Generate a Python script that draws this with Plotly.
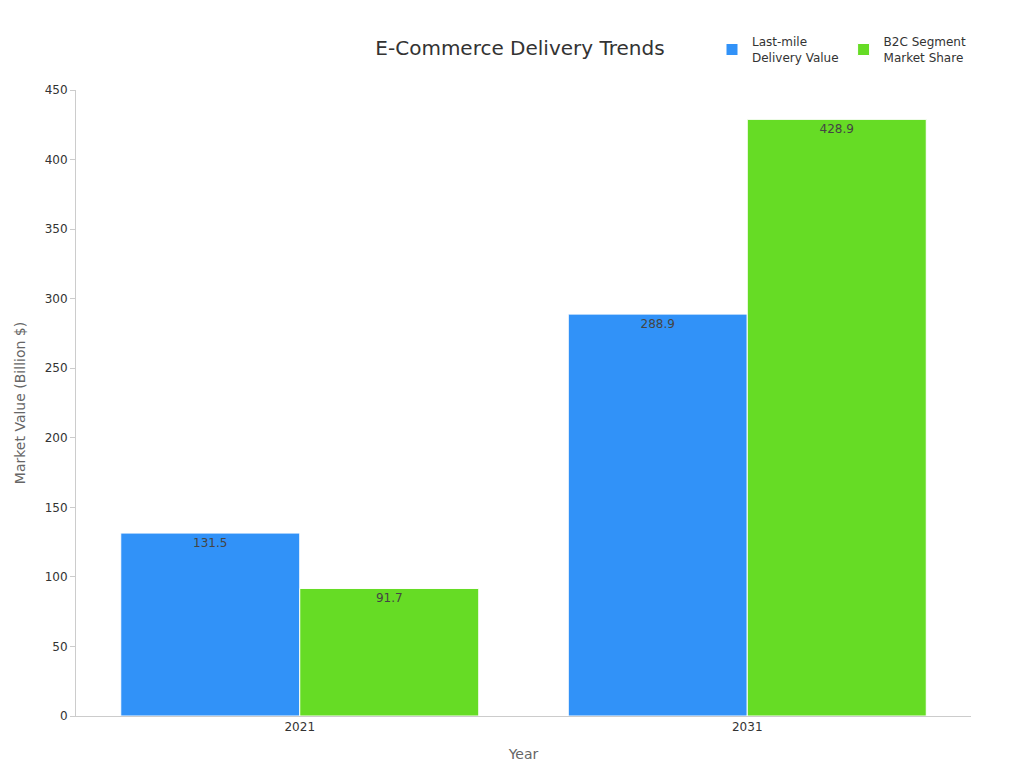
import plotly.graph_objects as go

years = ["2021", "2031"]
last_mile = [131.5, 288.9]
b2c = [91.7, 428.9]

fig = go.Figure()
fig.add_trace(go.Bar(x=years, y=last_mile, name="Last-mile<br>Delivery Value",
                     marker=dict(color="#3192f8", line=dict(color="white", width=1)),
                     text=[f"{v}" for v in last_mile], textposition="inside",
                     insidetextanchor="end", textfont=dict(color="#444", size=12)))
fig.add_trace(go.Bar(x=years, y=b2c, name="B2C Segment<br>Market Share",
                     marker=dict(color="#66dc25", line=dict(color="white", width=1)),
                     text=[f"{v}" for v in b2c], textposition="inside",
                     insidetextanchor="end", textfont=dict(color="#444", size=12)))

fig.update_layout(
    width=1024, height=768,
    title=dict(text="E-Commerce Delivery Trends", x=0.5, y=0.957, xanchor="center",
               font=dict(size=20, color="#333")),
    font=dict(family="DejaVu Sans", size=12, color="#333"),
    plot_bgcolor="white", paper_bgcolor="white",
    barmode="group", bargap=0.2, bargroupgap=0,
    margin=dict(l=68, r=61, t=82, b=60),
    legend=dict(orientation="h", x=1.0, xanchor="right", y=1.1, yanchor="top",
                font=dict(size=12)),
    xaxis=dict(title=dict(text="Year", font=dict(size=14, color="#666")),
               showline=True, linecolor="#ccc", ticks="", showgrid=False),
    yaxis=dict(title=dict(text="Market Value (Billion $)", font=dict(size=14, color="#666")),
               range=[0, 450], dtick=50, showline=True, linecolor="#ccc",
               ticks="outside", ticklen=5, tickcolor="#ccc", showgrid=False),
)
fig.update_traces(textangle=0)
fig.write_html("out.html")
